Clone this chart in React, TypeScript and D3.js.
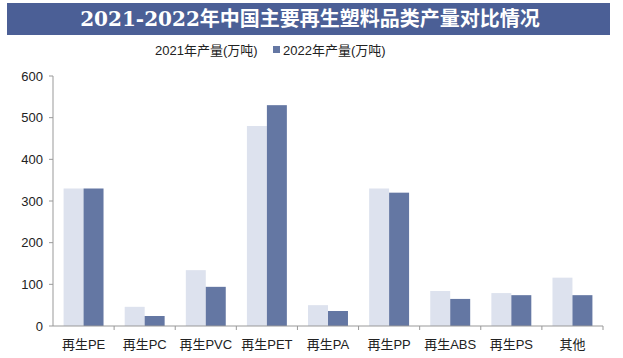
import React from "react";
import * as d3 from "d3";

const categories = ["再生PE", "再生PC", "再生PVC", "再生PET", "再生PA", "再生PP", "再生ABS", "再生PS", "其他"];
const values2021 = [330, 46, 134, 480, 50, 330, 84, 79, 116];
const values2022 = [330, 24, 94, 530, 36, 320, 65, 74, 74];
const yTicks = [0, 100, 200, 300, 400, 500, 600];
const seriesNames = ["2021年产量(万吨)", "2022年产量(万吨)"];
const title = "2021-2022年中国主要再生塑料品类产量对比情况";

const W = 623, H = 358;
const c2021 = "#dde2ee";
const c2022 = "#6477a3";

export default function App() {
  const x0 = 53, x1 = 603, yTop = 76, yBot = 326;
  const x = d3.scaleBand<string>().domain(categories).range([x0, x1]).paddingInner(0).paddingOuter(0);
  const y = d3.scaleLinear().domain([0, 600]).range([yBot, yTop]);
  const bw = x.bandwidth();
  const sub = d3.scaleBand<string>().domain(["a", "b"]).range([0, bw]).paddingInner(0).paddingOuter(0.53);
  const font = "Arial, 'Liberation Sans', 'Noto Sans CJK SC', sans-serif";
  return (
    <svg width={W} height={H} style={{ position: "absolute", left: 0, top: 0 }} xmlns="http://www.w3.org/2000/svg">
      <rect x={0} y={0} width={W} height={H} fill="#ffffff" />
      <rect x={7} y={3} width={603} height={32} fill="#4b5f96" />
      <text x={310} y={26} textAnchor="middle" fill="#ffffff" fontSize={20} fontWeight="bold"
        fontFamily="'DejaVu Serif', 'Noto Sans CJK SC', serif">{title}</text>
      <g fontFamily={font} fontSize={13} fill="#222">
        <text x={155} y={55}>{seriesNames[0]}</text>
        <rect x={273} y={46} width={7} height={7} fill={c2022} />
        <text x={283} y={55}>{seriesNames[1]}</text>
      </g>
      {categories.map((c, i) => (
        <g key={c}>
          <rect x={(x(c) ?? 0) + (sub("a") ?? 0)} y={y(values2021[i])} width={sub.bandwidth()} height={yBot - y(values2021[i])} fill={c2021} />
          <rect x={(x(c) ?? 0) + (sub("b") ?? 0)} y={y(values2022[i])} width={sub.bandwidth()} height={yBot - y(values2022[i])} fill={c2022} />
        </g>
      ))}
      <line x1={x0} x2={x0} y1={yTop} y2={yBot} stroke="#999" />
      <line x1={x0} x2={x1} y1={yBot} y2={yBot} stroke="#999" />
      {yTicks.map(t => (
        <g key={t}>
          <line x1={x0 - 4} x2={x0} y1={y(t)} y2={y(t)} stroke="#999" />
          <text x={x0 - 10} y={y(t) + 4.5} textAnchor="end" fontSize={13} fontFamily={font} fill="#222">{t}</text>
        </g>
      ))}
      {categories.map((c, i) => (
        <line key={"t" + i} x1={(x(c) ?? 0) + bw} x2={(x(c) ?? 0) + bw} y1={yBot} y2={yBot + 4} stroke="#999" />
      ))}
      {categories.map(c => (
        <text key={"l" + c} x={(x(c) ?? 0) + bw / 2} y={349} textAnchor="middle" fontSize={13} fontFamily={font} fill="#222">{c}</text>
      ))}
    </svg>
  );
}
